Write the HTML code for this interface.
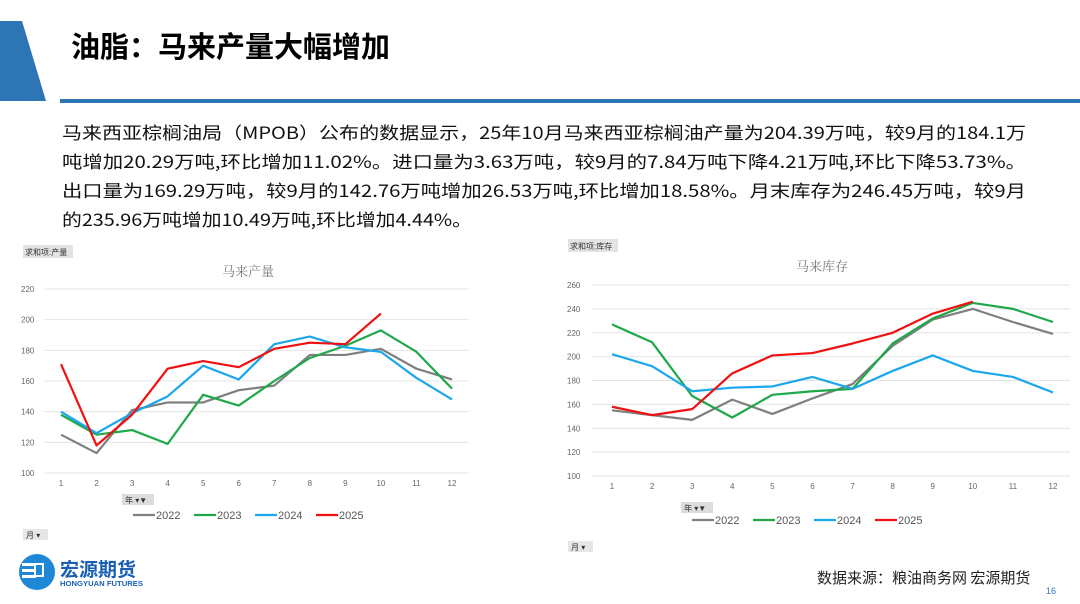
<!DOCTYPE html>
<html><head><meta charset="utf-8"><style>
body{margin:0;background:#fff;}
svg{display:block;font-family:"Liberation Sans","Noto Sans CJK SC",sans-serif;}
</style></head><body>
<svg id="root" width="1080" height="604" viewBox="0 0 1080 604" xmlns="http://www.w3.org/2000/svg">
<polygon points="0,21 22,21 46,101 0,101" fill="#2e75b6"/>
<rect x="60" y="99" width="1020" height="4" fill="#2e75b6"/>
<text x="71" y="57" font-size="29" font-weight="bold" fill="#000" font-family="'Noto Sans CJK SC',sans-serif">油脂：马来产量大幅增加</text>
<g font-size="17" fill="#111" font-family="'Noto Sans CJK SC',sans-serif">
<text x="62" y="139" textLength="964" lengthAdjust="spacingAndGlyphs">马来西亚棕榈油局（MPOB）公布的数据显示，25年10月马来西亚棕榈油产量为204.39万吨，较9月的184.1万</text>
<text x="62" y="168" textLength="964" lengthAdjust="spacingAndGlyphs">吨增加20.29万吨,环比增加11.02%。进口量为3.63万吨，较9月的7.84万吨下降4.21万吨,环比下降53.73%。</text>
<text x="62" y="197" textLength="964" lengthAdjust="spacingAndGlyphs">出口量为169.29万吨，较9月的142.76万吨增加26.53万吨,环比增加18.58%。月末库存为246.45万吨，较9月</text>
<text x="62" y="226" textLength="410" lengthAdjust="spacingAndGlyphs">的235.96万吨增加10.49万吨,环比增加4.44%。</text>
</g>
<g id="c1"></g>
<g id="c2"></g>
<g>
<circle cx="37" cy="572" r="18" fill="#1e88d6"/>
<rect x="22" y="563" width="14" height="3" fill="#fff"/><rect x="22" y="569" width="14" height="3" fill="#fff"/><rect x="22" y="575" width="14" height="3" fill="#fff"/>
<rect x="34" y="563" width="10" height="14" fill="#fff"/><rect x="36" y="565" width="6" height="10" fill="#1e88d6"/>
<text x="60" y="576" font-size="19" font-weight="bold" fill="#1a5fb4" font-family="'Noto Sans CJK SC',sans-serif">宏源期货</text>
<text x="60" y="586" font-size="7" font-weight="bold" fill="#1a5fb4" textLength="83" lengthAdjust="spacingAndGlyphs">HONGYUAN FUTURES</text>
</g>
<text x="817" y="583" font-size="15" fill="#222" font-family="'Noto Sans CJK SC',sans-serif">数据来源：粮油商务网 宏源期货</text>
<text x="1046" y="594" font-size="9" fill="#2e75b6">16</text>
</svg>
<script>
const months=[1,2,3,4,5,6,7,8,9,10,11,12];
const seriesNames=['2022','2023','2024','2025'];
const colors=['#7f7f7f','#1fa84a','#1aa7ec','#f01010'];
const prod2022=[125,113,141,146,146,154,157,177,177,181,168,161];
const prod2023=[138,125,128,119,151,144,160,175,183,193,179,155];
const prod2024=[140,126,139,150,170,161,184,189,182,179,162,148];
const prod2025=[171,118,138,168,173,169,181,185,184,204];
const prodTicks=[100,120,140,160,180,200,220];
const inv2022=[155,151,147,164,152,165,177,209,231,240,229,219];
const inv2023=[227,212,167,149,168,171,173,211,232,245,240,229];
const inv2024=[202,192,171,174,175,183,173,188,201,188,183,170];
const inv2025=[158,151,156,186,201,203,211,220,236,246];
const invTicks=[100,120,140,160,180,200,220,240,260];
const NS='http://www.w3.org/2000/svg';
function mk(p,tag,a){const e=document.createElementNS(NS,tag);for(const k in a)e.setAttribute(k,a[k]);p.appendChild(e);return e;}
function chart(g,o){
  const xs=m=>o.x1+(m-1)*(o.x12-o.x1)/11;
  const ys=v=>o.yB+(v-o.vmin)*(o.yT-o.yB)/(o.vmax-o.vmin);
  let b=mk(g,'rect',{x:o.bx,y:o.by,width:50,height:13,fill:'#e3e3e3'});
  
  let bt=mk(g,'text',{x:o.bx+2,y:o.by+10,'font-size':8,fill:'#333'});bt.textContent=o.btn;
  let t=mk(g,'text',{x:o.tx,y:o.ty,'font-size':13,fill:'#777','text-anchor':'middle','font-family':"'Noto Serif CJK SC',serif"});t.textContent=o.title;
  
  o.ticks.forEach(v=>{
    let l=mk(g,'line',{x1:o.gx0,x2:o.gx1,y1:ys(v),y2:ys(v),stroke:'#e4e4e4','stroke-width':1});
    
    let tt=mk(g,'text',{x:o.lx,y:ys(v)+3,'font-size':8,fill:'#666'});tt.textContent=v;
    
  });
  months.forEach(m=>{let tt=mk(g,'text',{x:xs(m),y:o.yB+13,'font-size':8,fill:'#666','text-anchor':'middle'});tt.textContent=m;
    });
  o.data.forEach((d,i)=>{
    let p=mk(g,'polyline',{points:d.map((v,j)=>xs(j+1)+','+ys(v)).join(' '),fill:'none',stroke:colors[i],'stroke-width':2.2,'stroke-linejoin':'round'});
    
  });
  let f=mk(g,'rect',{x:o.fx,y:o.fy,width:32,height:11,fill:'#dcdcdc'});
  
  let ft=mk(g,'text',{x:o.fx+3,y:o.fy+9,'font-size':8,fill:'#333'});ft.textContent='年  ▾▼';
  seriesNames.forEach((n,i)=>{
    const lx=o.lgx+i*61;
    let le=mk(g,'g',{});
    mk(le,'line',{x1:lx,x2:lx+22,y1:o.lgy,y2:o.lgy,stroke:colors[i],'stroke-width':2.2});
    let lt=mk(le,'text',{x:lx+23,y:o.lgy+4,'font-size':11,fill:'#555'});lt.textContent=n;
  });
  let mb=mk(g,'rect',{x:o.mx,y:o.my,width:25,height:11,fill:'#e6e6e6'});
  
  let mt=mk(g,'text',{x:o.mx+3,y:o.my+9,'font-size':8,fill:'#333'});mt.textContent='月 ▾';
}
chart(document.getElementById('c1'),{x1:61,x12:452,yB:473,yT:289,vmin:100,vmax:220,ticks:prodTicks,gx0:44,gx1:469,lx:21,
  bx:23,by:245,btn:'求和项:产量',title:'马来产量',tx:248,ty:276,fx:122,fy:494,lgx:133,lgy:515,mx:23,my:529,
  data:[prod2022,prod2023,prod2024,prod2025]});
chart(document.getElementById('c2'),{x1:612,x12:1053,yB:476,yT:285,vmin:100,vmax:260,ticks:invTicks,gx0:592,gx1:1070,lx:567,
  bx:568,by:239,btn:'求和项:库存',title:'马来库存',tx:822,ty:271,fx:681,fy:502,lgx:692,lgy:520,mx:568,my:541,
  data:[inv2022,inv2023,inv2024,inv2025]});
</script>
</body></html>
